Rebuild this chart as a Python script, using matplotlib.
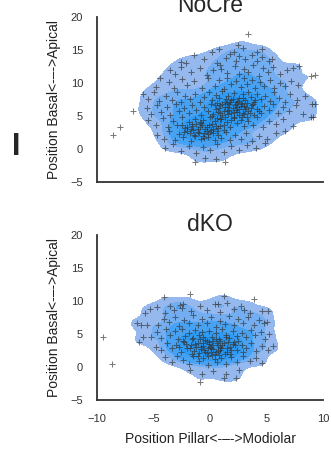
import matplotlib
matplotlib.use("Agg")
import matplotlib.pyplot as plt
import seaborn as sns

# cell positions (um)
nocre_points = [
    # top fringe
    (0.2, 14.7), (0.8, 15.2), (2.1, 14.7), (2.5, 15.7), (2.95, 15.3), (3.4, 17.4), (4.2, 14.7), (4.6, 15.2),
    (-2.6, 13.2), (-1.4, 14.3), (-0.5, 13.6), (0.6, 13.1), (1.4, 13.8), (1.8, 14.4), (2.3, 13.3), (2.6, 14.1),
    (3.1, 13.6), (3.7, 14.2), (4.2, 13.4), (4.6, 14.0), (5.2, 13.4), (5.5, 13.7), (-2.1, 13.0),
    # 11..13
    (-3.5, 12.0), (-3.1, 11.4), (-2.6, 12.4), (-1.7, 11.6), (-0.9, 12.3), (-0.3, 11.2), (0.3, 12.0), (1.0, 12.2),
    (0.9, 12.8), (1.5, 11.5), (2.2, 12.6), (2.6, 11.3), (3.0, 12.2), (3.4, 11.7), (3.8, 12.8), (4.3, 11.1),
    (4.7, 12.3), (5.1, 11.6), (5.6, 12.5), (6.2, 11.4), (6.8, 12.0), (7.3, 12.3), (7.9, 12.6),
    # 9..11
    (-4.4, 10.7), (-4.8, 9.4), (-3.6, 10.2), (-3.2, 9.3), (-2.5, 10.6), (-2.0, 9.7), (-1.4, 10.3), (-0.7, 9.2),
    (-0.2, 10.8), (0.4, 9.6), (0.8, 10.4), (1.2, 9.1), (1.5, 10.7), (1.9, 9.8), (2.3, 10.3), (2.7, 9.4),
    (3.0, 10.8), (3.3, 9.9), (3.7, 10.5), (4.0, 9.3), (4.4, 10.1), (4.8, 9.6), (5.3, 10.4), (5.7, 9.2),
    (6.2, 10.0), (6.6, 9.5), (7.2, 10.3), (7.8, 9.7), (8.9, 11.1), (9.3, 11.2),
    # 7..9
    (-5.9, 8.3), (-5.5, 7.6), (-5.0, 8.6), (-4.5, 7.3), (-3.9, 8.1), (-3.4, 7.5), (-2.9, 8.7), (-2.6, 7.2),
    (-2.2, 8.0), (-1.8, 7.6), (-1.3, 8.4), (-0.9, 7.1), (-0.5, 7.9), (-0.1, 8.6), (0.2, 7.4), (0.5, 8.2),
    (0.8, 7.7), (1.1, 8.8), (1.3, 7.2), (1.6, 8.0), (1.9, 7.5), (2.1, 8.5), (2.4, 7.1), (2.6, 7.8),
    (2.9, 8.3), (3.1, 7.4), (3.4, 8.7), (3.6, 7.9), (3.9, 7.2), (4.2, 8.4), (4.5, 7.6), (4.9, 8.1),
    (5.3, 7.3), (5.7, 8.6), (6.1, 7.8), (6.6, 7.2), (7.1, 8.3), (7.7, 7.5), (8.4, 8.0),
    # 5..7
    (-6.8, 5.8), (-5.6, 6.2), (-5.2, 5.3), (-4.7, 6.6), (-4.3, 5.6), (-3.8, 6.3), (-3.5, 5.2), (-3.0, 6.8),
    (-2.7, 5.7), (-2.3, 6.2), (-1.9, 5.4), (-1.6, 6.6), (-1.2, 5.9), (-0.8, 5.1), (-0.5, 6.4), (-0.2, 5.7),
    (0.1, 6.9), (0.3, 5.3), (0.5, 6.1), (0.7, 5.6), (0.9, 6.7), (1.1, 5.2), (1.3, 6.3), (1.5, 5.8),
    (1.7, 6.9), (1.9, 5.4), (2.0, 6.2), (2.2, 6.6), (2.4, 5.6), (2.6, 6.0), (2.8, 6.8), (3.0, 5.3),
    (3.2, 6.4), (3.4, 5.8), (3.7, 6.7), (3.9, 5.1), (4.2, 6.1), (4.5, 5.5), (4.8, 6.5), (5.2, 5.9),
    (5.6, 6.8), (6.0, 5.4), (6.5, 6.3), (7.0, 5.7), (7.6, 6.6), (8.2, 5.3), (9.0, 6.9), (9.3, 6.9),
    # 3..5
    (-5.5, 4.4), (-4.8, 3.6), (-4.2, 4.7), (-3.7, 3.3), (-3.3, 4.2), (-2.9, 3.7), (-2.5, 4.8), (-2.2, 3.2),
    (-1.9, 4.1), (-1.6, 3.5), (-1.3, 4.6), (-1.1, 3.1), (-0.8, 3.9), (-0.6, 4.4), (-0.3, 3.4), (0.0, 4.8),
    (0.2, 3.8), (0.4, 4.3), (0.7, 3.2), (0.9, 4.6), (1.2, 3.6), (1.5, 4.1), (1.8, 3.3), (2.1, 4.7),
    (2.4, 3.9), (2.7, 4.4), (3.0, 3.5), (3.4, 4.2), (3.8, 3.7), (4.2, 4.8), (4.7, 3.4), (5.2, 4.3),
    (5.8, 3.8), (6.5, 4.5), (7.3, 3.5), (8.9, 4.9), (9.1, 4.8),
    # 1..3
    (-8.6, 2.2), (-8.0, 3.4), (-4.7, 2.2), (-4.1, 1.6), (-3.6, 2.7), (-3.1, 1.3), (-2.7, 2.3), (-2.4, 1.8),
    (-2.0, 2.8), (-1.7, 1.2), (-1.4, 2.1), (-1.1, 2.6), (-0.8, 1.5), (-0.5, 2.4), (-0.2, 1.9), (0.1, 2.9),
    (0.4, 1.4), (0.7, 2.2), (1.0, 1.7), (1.4, 2.6), (1.8, 1.3), (2.2, 2.1), (2.7, 1.6), (3.2, 2.5),
    (3.7, 1.2), (4.3, 2.0), (5.0, 1.5), (5.8, 2.4), (6.6, 2.8),
    # -2..1
    (-4.0, 0.1), (-3.3, 0.7), (-2.6, -0.3), (-1.9, 0.5), (-1.2, -0.6), (-0.6, 0.3), (0.0, -0.2), (0.6, 0.8),
    (1.2, -0.4), (1.9, 0.4), (2.6, -0.1), (3.3, 0.6), (4.1, 0.2), (4.9, 0.9),
    (-1.3, -1.9), (1.3, -1.9), (-0.4, -1.3), (0.5, -1.5),
    # dense core
    (1.6, 6.4), (2.3, 5.9), (1.8, 7.1), (2.7, 6.5), (1.2, 5.7), (2.9, 5.5), (0.8, 6.2), (2.1, 4.9),
    (3.3, 7.0), (1.4, 7.6), (2.5, 7.3), (0.6, 7.0), (3.6, 6.2), (1.0, 4.5), (2.8, 4.8), (-0.3, 2.8),
    (-0.9, 3.3), (-1.5, 2.9), (-0.1, 3.6), (-0.6, 2.0), (0.3, 2.5), (-1.2, 3.8), (0.5, 3.5), (-2.0, 3.4),
    (-1.8, 2.4),
    (1.7, 5.9), (2.4, 6.3), (0.9, 5.4), (3.1, 6.0), (1.5, 7.0), (2.0, 7.6), (2.9, 7.7), (3.5, 5.5),
    (0.4, 6.6), (1.1, 6.9), (2.6, 5.2), (1.9, 4.4), (3.8, 6.9), (0.2, 5.0), (1.3, 4.8), (2.3, 6.9),
    (3.0, 6.5), (4.0, 7.5), (4.3, 5.8), (1.6, 5.3), (2.7, 7.0), (0.6, 4.7), (3.3, 4.9), (2.1, 5.6),
    (-0.4, 3.1), (-1.0, 2.4), (-0.2, 2.3), (-1.7, 3.1), (-0.7, 3.6), (0.3, 3.1), (-1.3, 2.0), (0.0, 2.6),
    (-2.3, 2.6), (-0.9, 4.1), (0.6, 2.8), (-1.6, 3.8), (-0.5, 1.7), (0.9, 3.5), (-2.5, 3.6), (1.2, 2.9),
]

dko_points = [
    # outliers
    (-9.5, 4.6), (-8.7, 0.4), (-6.5, 6.7), (-6.1, 6.3), (-5.6, 6.3), (-6.3, 3.8), (-5.9, 4.6),
    (-4.1, 10.6), (-5.3, 8.8), (-4.7, 9.1), (-5.75, 8.1), (-3.5, 9.3), (-2.65, 9.4), (-2.5, 8.9),
    (-1.8, 11.0), (0.7, 9.6), (1.2, 10.8), (3.9, 10.3), (2.7, 9.3), (3.0, 8.7), (4.6, 8.4), (5.1, 8.4),
    (5.0, 6.8), (5.6, 3.2), (-0.9, -2.2), (1.2, -1.7), (2.3, -1.6),
    # 8..10
    (-4.0, 8.2), (-3.2, 8.7), (-2.4, 9.6), (-1.7, 8.4), (-0.9, 9.2), (-0.3, 8.6), (0.4, 9.5), (0.9, 8.3),
    (1.5, 9.7), (2.1, 8.8), (3.5, 8.1),
    # 6..8
    (-4.6, 6.4), (-4.1, 7.3), (-3.6, 6.8), (-3.1, 7.6), (-2.7, 6.2), (-2.3, 7.1), (-1.9, 6.6), (-1.5, 7.8),
    (-1.1, 6.3), (-0.7, 7.2), (-0.3, 6.7), (0.1, 7.5), (0.5, 6.1), (0.9, 7.0), (1.3, 6.5), (1.7, 7.7),
    (2.1, 6.3), (2.5, 7.2), (2.9, 6.6), (3.4, 7.5), (3.9, 6.4), (4.3, 7.1), (4.8, 6.6),
    # 4..6
    (-5.2, 4.6), (-4.7, 5.3), (-4.3, 4.4), (-3.9, 5.7), (-3.5, 4.9), (-3.1, 5.4), (-2.8, 4.2), (-2.5, 5.8),
    (-2.2, 4.7), (-1.9, 5.2), (-1.6, 4.3), (-1.3, 5.6), (-1.0, 4.8), (-0.7, 5.3), (-0.4, 4.1), (-0.1, 5.5),
    (0.2, 4.6), (0.5, 5.1), (0.8, 4.3), (1.1, 5.7), (1.4, 4.9), (1.7, 4.4), (2.0, 5.4), (2.4, 4.7),
    (2.8, 5.2), (3.2, 4.5), (3.6, 5.6), (4.0, 4.8), (4.5, 5.3), (4.9, 4.2), (5.2, 5.0),
    # 2..4
    (-4.8, 3.1), (-4.3, 2.5), (-3.8, 3.6), (-3.4, 2.8), (-3.0, 3.3), (-2.6, 2.2), (-2.3, 3.8), (-2.0, 2.9),
    (-1.7, 3.4), (-1.4, 2.4), (-1.1, 3.7), (-0.8, 2.7), (-0.6, 3.2), (-0.3, 2.1), (-0.1, 3.5), (0.1, 2.8),
    (0.3, 3.9), (0.5, 2.3), (0.7, 3.3), (0.9, 2.6), (1.2, 3.6), (1.5, 2.2), (1.8, 3.1), (2.1, 3.8),
    (2.4, 2.5), (2.8, 3.4), (3.2, 2.8), (3.6, 3.6), (4.1, 2.4), (4.6, 3.2), (5.1, 2.6),
    # 0..2
    (-4.0, 1.5), (-3.4, 0.8), (-2.9, 1.7), (-2.4, 1.1), (-1.9, 0.5), (-1.5, 1.6), (-1.0, 0.9), (-0.6, 1.4),
    (-0.2, 0.3), (0.2, 1.8), (0.6, 0.7), (1.0, 1.3), (1.4, 0.4), (1.9, 1.5), (2.4, 0.8), (2.9, 1.6),
    (3.5, 0.9), (4.1, 1.4), (4.6, 0.6),
    # below 0
    (-1.8, -0.5), (-0.7, -1.0), (0.3, -0.6), (1.4, -1.1), (2.6, -0.4),
    # dense core
    (0.0, 3.0), (-0.5, 2.5), (0.6, 3.6), (-1.2, 3.0), (1.0, 2.9), (-0.3, 4.0), (0.4, 2.0), (1.6, 3.8),
    (-1.6, 2.0), (-0.9, 4.2), (0.9, 4.0), (-0.2, 1.6), (1.3, 1.9), (2.2, 3.3), (-2.1, 3.5), (0.2, 3.4),
    (-0.6, 3.7), (0.7, 2.4), (1.9, 2.6), (-1.0, 2.1),
    (0.3, 2.7), (-0.8, 3.1), (1.1, 3.3), (-0.4, 2.2), (0.5, 4.2), (-1.3, 3.5), (1.5, 2.8), (-0.1, 3.8),
    (0.8, 1.8), (-1.8, 2.8), (2.0, 3.5), (-0.6, 4.6), (1.4, 4.5), (-2.4, 4.0), (0.1, 2.2), (-1.1, 1.6),
    (2.5, 3.9), (-0.2, 2.9), (0.9, 3.1), (-1.5, 4.4), (1.8, 2.0), (-2.7, 3.1), (0.4, 1.2), (2.9, 2.2),
]

panels = ["NoCre", "dKO"]
x_ticks = [-10, -5, 0, 5, 10]
y_ticks = [-5, 0, 5, 10, 15, 20]

sns.set_style("white")
plt.rcParams['font.family'] = ['Liberation Sans', 'DejaVu Sans']

# outer -> inner density band colours
band_colors = ['#95b9ee', '#72aef1', '#48a2f3', '#2f9bf4', '#2196f3']

fig = plt.figure(figsize=(3.31, 4.53), dpi=100)
ax_top = fig.add_axes([0.293, 0.598, 0.683, 0.3645])
ax_bot = fig.add_axes([0.293, 0.117, 0.683, 0.3645])

for ax, name, pts in zip([ax_top, ax_bot], panels, [nocre_points, dko_points]):
    xs = [p[0] for p in pts]
    ys = [p[1] for p in pts]
    n_before = len(ax.collections)
    sns.kdeplot(x=xs, y=ys, fill=True, levels=6, thresh=0.08, bw_adjust=0.66,
                cmap='Blues', ax=ax)
    # recolour the filled bands one colour per level
    cset = ax.collections[n_before]
    n_bands = len(cset.get_paths())
    cset.set_array(None)
    cset.set_facecolor(band_colors[:n_bands])
    ax.scatter(xs, ys, marker='+', s=17, linewidths=0.75, color='#333333', alpha=0.65, zorder=3)
    ax.set_xlim(-10, 10)
    ax.set_ylim(-5, 20)
    ax.set_xticks(x_ticks)
    ax.set_yticks(y_ticks)
    ax.tick_params(length=0, pad=10, labelsize=8, colors='#333333')
    ax.set_title(name, fontsize=16.5, pad=3)
    ax.set_ylabel("Position Basal<-\u2013->Apical", fontsize=10, color='#222222', labelpad=7)
    ax.set_xlabel("")
    for side in ['top', 'right']:
        ax.spines[side].set_visible(False)
    for side in ['left', 'bottom']:
        ax.spines[side].set_color('#333333')
        ax.spines[side].set_linewidth(1.3)

ax_top.set_xticklabels([])
ax_bot.set_xlabel("Position Pillar<-\u2013->Modiolar", fontsize=10, color='#222222', labelpad=6)

fig.text(0.048, 0.675, "I", fontsize=22, fontweight='bold', ha='center', va='center')

fig.savefig("out.png", dpi=100)
